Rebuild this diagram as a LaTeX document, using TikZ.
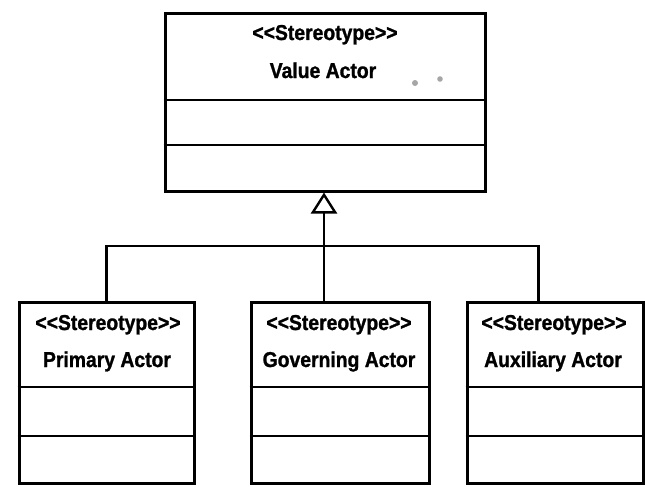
\documentclass[tikz,border=0pt]{standalone}
\usepackage{fontspec}
\setmainfont{Liberation Sans}
% narrow, heavy bold face used for the class labels
\newfontfamily\umlfont{Liberation Sans}[FakeStretch=0.9, BoldFeatures={FakeBold=1.2}]
\usetikzlibrary{arrows.meta}
% literal double angle brackets (a kern keeps the TeX mapping from turning them into guillemets)
\newcommand\dlt{<\kern0pt<}
\newcommand\dgt{>\kern0pt>}
\begin{document}
\begin{tikzpicture}[x=1pt,y=-1pt,
  classbox/.style={draw, line width=3pt, rectangle, inner sep=0pt, fill=white},
  compartment/.style={line width=2.6pt},
  label/.style={anchor=base, inner sep=0pt, font=\umlfont\bfseries\fontsize{21.5}{22}\selectfont},
  link/.style={line width=2.4pt},
  inherit/.style={link, -{Triangle[open, length=21pt, width=26pt, line width=2.4pt]}}]
\useasboundingbox[fill=white] (0,0) rectangle (645,487);

% parent class
\node[classbox, minimum width=320pt, minimum height=177pt] (va) at (325,102.5) {};
\draw[compartment] (va.west |- 0,100) -- (va.east |- 0,100);
\draw[compartment] (va.west |- 0,145) -- (va.east |- 0,145);
\node[label] (vaster) at (325,40) {\dlt Stereotype\dgt};
\node[label] (vaname) at (323,78) {Value Actor};
\fill[gray!70] (415,83) circle (3pt) (440,79) circle (2.8pt);

% child classes
\node[classbox, minimum width=175pt, minimum height=181pt] (prim) at (106.5,392.5) {};
\node[classbox, minimum width=178pt, minimum height=181pt] (gov) at (340,392.5) {};
\node[classbox, minimum width=176pt, minimum height=181pt] (aux) at (555,392.5) {};
\foreach \b in {prim,gov,aux}{
  \draw[compartment] (\b.west |- 0,387) -- (\b.east |- 0,387);
  \draw[compartment] (\b.west |- 0,436) -- (\b.east |- 0,436);
}
\node[label] (primster) at (108,330) {\dlt Stereotype\dgt};
\node[label] (primname) at (107,367) {Primary Actor};
\node[label] (govster) at (339,330) {\dlt Stereotype\dgt};
\node[label] (govname) at (339,367) {Governing Actor};
\node[label] (auxster) at (554,330) {\dlt Stereotype\dgt};
\node[label] (auxname) at (553,367) {Auxiliary Actor};

% generalization tree
\coordinate (bus) at (324,246);
\coordinate (auxtop) at ([xshift=73pt]aux.north west);
\draw[link] (prim.north) |- (bus) -| (auxtop);
\draw[inherit] (gov.north -| bus) -- (va.south -| bus);
\end{tikzpicture}
\end{document}
